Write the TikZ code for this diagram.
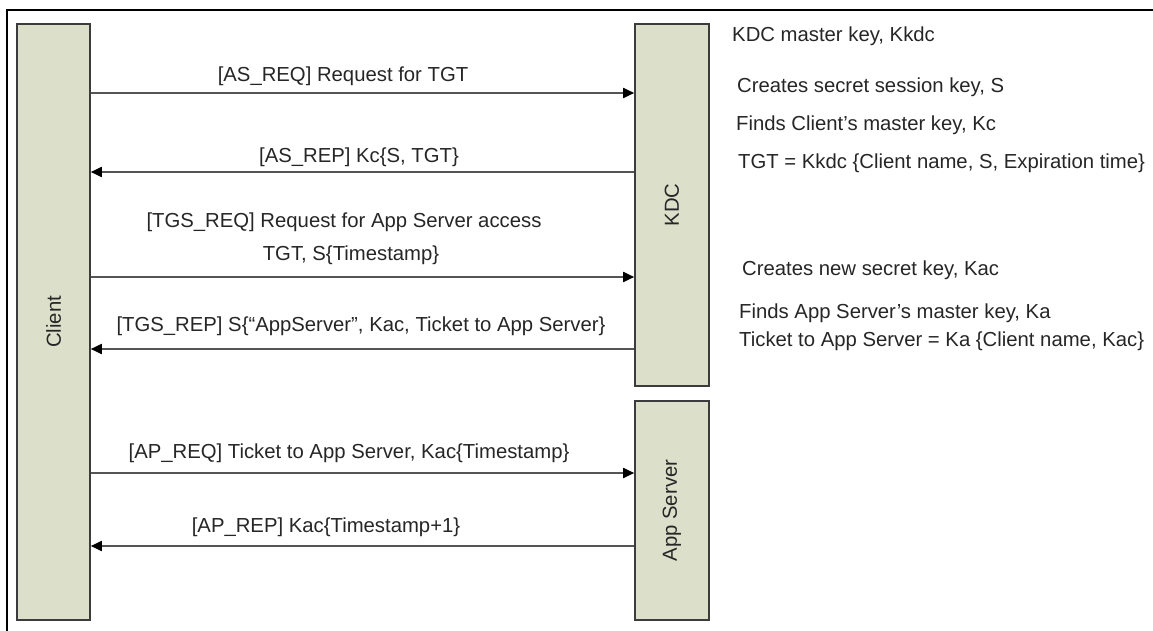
\documentclass[tikz,border=0pt]{standalone}
\usepackage{fontspec}
\setmainfont{Liberation Sans}
\usetikzlibrary{arrows.meta}
\definecolor{boxfill}{RGB}{220,224,203}
\definecolor{boxline}{RGB}{60,60,60}
\definecolor{msgline}{RGB}{85,85,85}
\begin{document}
\begin{tikzpicture}[
			x = 1pt, y = -1pt,
			every node/.style = {font = \fontsize{20.3}{24}\selectfont, text = black!85, inner sep = 0pt},
			party/.style = {draw = boxline, fill = boxfill, line width = 1.6pt, minimum width = #1},
			msg/.style = {draw = msgline, line width = 1.8pt, -{Triangle[length=11pt,width=10pt,color=black]}},
			note/.style = {anchor = west}
			]

			\useasboundingbox (0,0) rectangle (1153,631);
			\clip (0,0) rectangle (1153,631);
			\draw[line width = 2pt] (7,660) |- (1180,10);

			\node[party = 73pt, minimum height = 596pt] (client) at (53.5,322) {};
			\node[party = 74pt, minimum height = 362pt] (kdc) at (672,205) {};
			\node[party = 74pt, minimum height = 219pt] (app) at (672,510.5) {};

			\node[rotate = 90] (clientlbl) at (client.center) {Client};
			\node[rotate = 90] (kdclbl) at (kdc.center) {KDC};
			\node[rotate = 90] (applbl) at (app.center) {App Server};

			\coordinate (asreq) at (0,93);
			\coordinate (asrep) at (0,172);
			\coordinate (tgsreq) at (0,277);
			\coordinate (tgsrep) at (0,349);
			\coordinate (apreq) at (0,473);
			\coordinate (aprep) at (0,546);

			\draw[msg] (client.east |- asreq) -- (kdc.west |- asreq);
			\draw[msg] (kdc.west |- asrep) -- (client.east |- asrep);
			\draw[msg] (client.east |- tgsreq) -- (kdc.west |- tgsreq);
			\draw[msg] (kdc.west |- tgsrep) -- (client.east |- tgsrep);
			\draw[msg] (client.east |- apreq) -- (app.west |- apreq);
			\draw[msg] (app.west |- aprep) -- (client.east |- aprep);

			\node (asreqlbl) at (343,76) {[AS\_REQ] Request for TGT};
			\node (asreplbl) at (359,157) {[AS\_REP] Kc\{S, TGT\}};
			\node (tgsreqlbl) at (344,222) {[TGS\_REQ] Request for App Server access};
			\node (tgsreqlbl2) at (351,255) {TGT, S\{Timestamp\}};
			\node (tgsreplbl) at (361,326) {[TGS\_REP] S\{“AppServer”, Kac, Ticket to App Server\}};
			\node (apreqlbl) at (349,453) {[AP\_REQ] Ticket to App Server, Kac\{Timestamp\}};
			\node (apreplbl) at (326,527) {[AP\_REP] Kac\{Timestamp+1\}};

			\node[note] (n1) at (732,36) {KDC master key, Kkdc};
			\node[note] (n2) at (737,87) {Creates secret session key, S};
			\node[note] (n3) at (736,125) {Finds Client’s master key, Kc};
			\node[note] (n4) at (738,163) {TGT = Kkdc \{Client name, S, Expiration time\}};
			\node[note] (n5) at (742,270) {Creates new secret key, Kac};
			\node[note] (n6) at (739,313) {Finds App Server’s master key, Ka};
			\node[note] (n7) at (739,341) {Ticket to App Server = Ka \{Client name, Kac\}};

		\end{tikzpicture}
\end{document}
